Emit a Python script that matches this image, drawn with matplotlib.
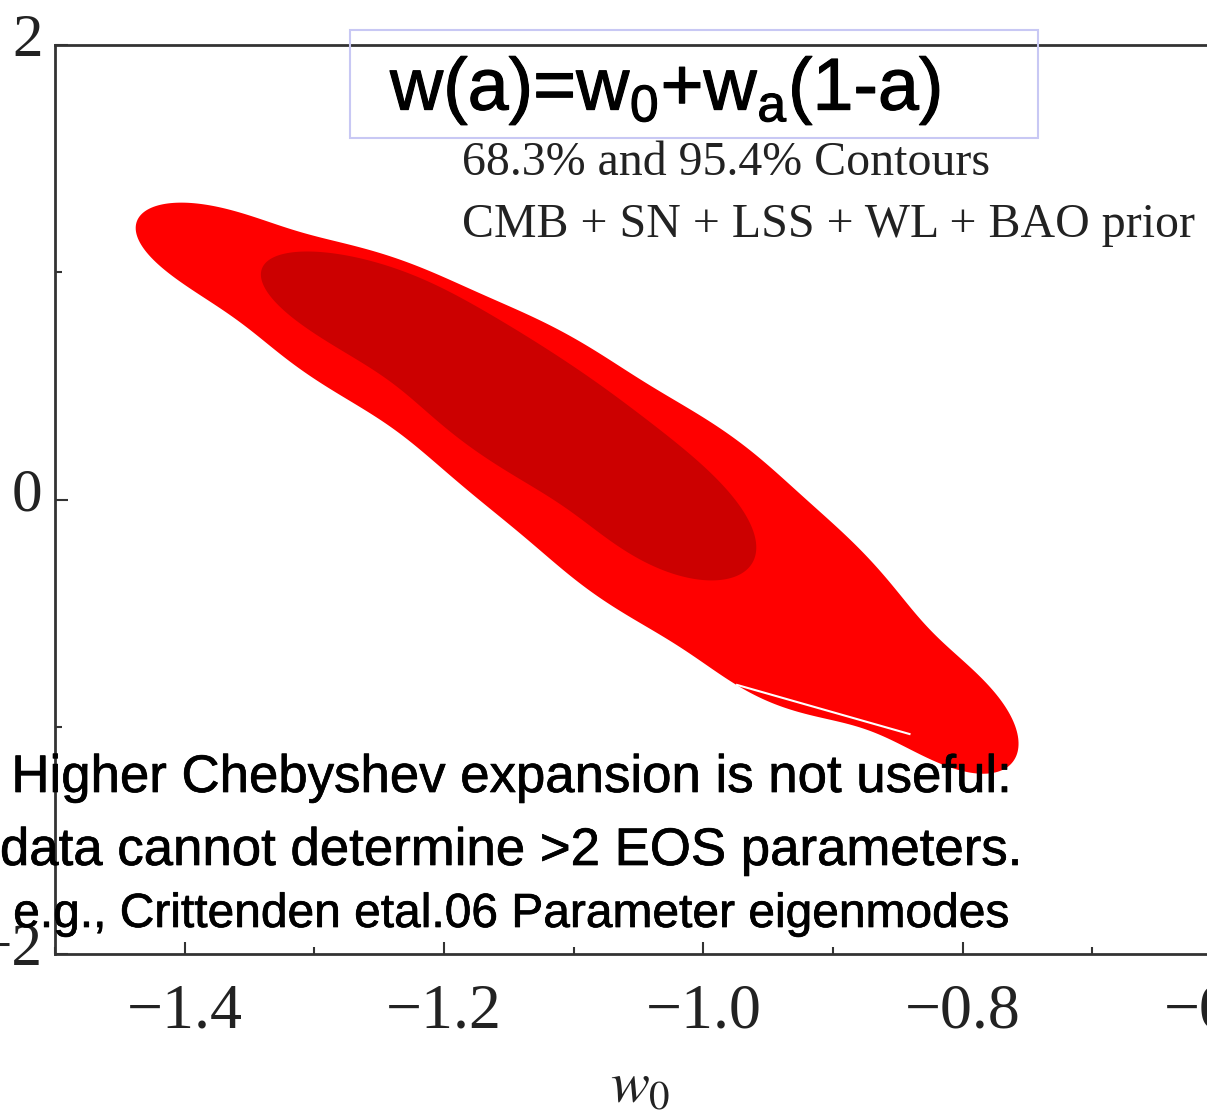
import numpy as np
import matplotlib
matplotlib.use("Agg")
import matplotlib.pyplot as plt
import matplotlib.patches as mpatches
import matplotlib.patheffects as pe
import matplotlib.transforms as mtransforms

plt.rcParams["mathtext.fontset"] = "custom"
plt.rcParams["mathtext.rm"] = "Liberation Sans"
plt.rcParams["mathtext.it"] = "Liberation Sans:italic"

# ── 95.4% contour outline (w0, wa), clockwise from the left tip ──────────────
OUTER_W0 = [-1.444, -1.438, -1.414, -1.388, -1.350, -1.311, -1.259, -1.208,
            -1.157, -1.118, -1.080, -1.041, -1.003, -0.964, -0.925, -0.887,
            -0.848, -0.823, -0.810, -0.784, -0.758, -0.756, -0.753, -0.758,
            -0.771, -0.797, -0.823, -0.848, -0.887, -0.939, -0.977,
            -1.003, -1.041, -1.080, -1.118, -1.157, -1.195, -1.234, -1.259,
            -1.286, -1.311, -1.337, -1.363, -1.388, -1.414, -1.440]
OUTER_WA = [1.217, 1.283, 1.305, 1.296, 1.243, 1.186, 1.098, 0.997,
            0.878, 0.759, 0.641, 0.513, 0.363, 0.218, 0.037, -0.189,
            -0.409, -0.572, -0.673, -0.805, -0.981, -1.028, -1.102, -1.177,
            -1.221, -1.204, -1.146, -1.058, -1.001, -0.913, -0.807,
            -0.706, -0.574, -0.429, -0.266, -0.077, 0.108, 0.293, 0.381,
            0.482, 0.579, 0.689, 0.790, 0.909, 1.019, 1.129]

# ── 68.3% contour outline ─────────────────────────────────────────────────────
INNER_W0 = [-1.351, -1.342, -1.311, -1.259, -1.208, -1.182, -1.157, -1.118,
            -1.080, -1.041, -1.003, -0.977, -0.959, -0.952, -0.964, -0.989,
            -1.028, -1.067, -1.105, -1.144, -1.182, -1.208, -1.234, -1.259,
            -1.286, -1.311, -1.337, -1.350]
INNER_WA = [1.019, 1.072, 1.094, 1.054, 0.950, 0.880, 0.800, 0.640,
            0.510, 0.350, 0.161, -0.015, -0.134, -0.253, -0.341, -0.363,
            -0.310, -0.209, -0.033, 0.086, 0.249, 0.372, 0.469, 0.583,
            0.689, 0.790, 0.909, 0.975]

# thin white stroke across the lower edge of the outer region
STROKE_W0 = [-0.974, -0.841]
STROKE_WA = [-0.816, -1.032]

X_MAJOR = [-1.4, -1.2, -1.0, -0.8, -0.6]
X_MINOR = [-1.5, -1.3, -1.1, -0.9, -0.7]
Y_MAJOR = [2, 0, -2]
Y_MINOR = [1, -1]

TITLE = r"w(a)=w$_\mathrm{0}$+w$_\mathrm{a}$(1-a)"
NOTE_LINES = ["68.3% and 95.4% Contours",
              "CMB + SN + LSS + WL + BAO prior"]
FOOT_LINES = ["Higher Chebyshev expansion is not useful:",
              "data cannot determine >2 EOS parameters.",
              "e.g., Crittenden etal.06 Parameter eigenmodes"]

ASPECT = 1296.7 / 227.25   # pixels per unit of w0 over pixels per unit of wa


def smooth_outline(xs, ys, keep=10, n=800):
    """Resample a closed outline by arc length and drop high harmonics."""
    pts = np.column_stack([xs, ys])
    pts = np.vstack([pts, pts[:1]])
    seg = np.hypot(np.diff(pts[:, 0]) * ASPECT, np.diff(pts[:, 1]))
    s = np.concatenate([[0], np.cumsum(seg)])
    t = np.linspace(0, s[-1], n, endpoint=False)
    z = np.interp(t, s, pts[:, 0]) * ASPECT + 1j * np.interp(t, s, pts[:, 1])
    f = np.fft.fft(z)
    k = np.fft.fftfreq(n, 1 / n)
    f[np.abs(k) > keep] = 0
    z = np.fft.ifft(f)
    return np.column_stack([z.real / ASPECT, z.imag])


W, H = 1207, 1118
fig = plt.figure(figsize=(W / 100, H / 100), dpi=100)
fig.patch.set_facecolor("white")

# axes run past the right edge of the canvas, so -0.6 is only partly shown
ax = fig.add_axes([55 / W, 1 - 954 / H, (1222 - 55) / W, (954 - 45) / H])
ax.set_xlim(-1.5, -0.6)
ax.set_ylim(-2, 2)

ax.add_patch(mpatches.Polygon(smooth_outline(OUTER_W0, OUTER_WA, keep=11),
                              closed=True, facecolor="#ff0000",
                              edgecolor="none", zorder=1))
ax.add_patch(mpatches.Polygon(smooth_outline(INNER_W0, INNER_WA, keep=6),
                              closed=True, facecolor="#cc0000",
                              edgecolor="none", zorder=2))
ax.plot(STROKE_W0, STROKE_WA, color="white", lw=1.5, zorder=3)

for side in ("left", "bottom", "top"):
    ax.spines[side].set_color("#333333")
    ax.spines[side].set_linewidth(2.0)
ax.spines["right"].set_visible(False)

serif = "Liberation Serif"
ax.set_xticks(X_MAJOR)
ax.set_xticklabels([f"\u2212{abs(v):.1f}" for v in X_MAJOR],
                   family=serif, fontsize=46, color="#222222")
ax.set_xticks(X_MINOR, minor=True)
ax.set_yticks(Y_MAJOR)
ax.set_yticklabels([str(v).replace("-", "\u2212") for v in Y_MAJOR],
                   family=serif, fontsize=44, color="#222222")
ax.set_yticks(Y_MINOR, minor=True)
ax.tick_params(which="both", direction="in", top=False, right=False,
               color="#333333", width=1.5)
ax.tick_params(which="major", length=9)
ax.tick_params(which="minor", length=5)
ax.tick_params(axis="x", pad=21)
ax.tick_params(axis="y", pad=9)

# y labels sit a little above their ticks
lift = mtransforms.ScaledTranslation(0, 10 / 100, fig.dpi_scale_trans)
for lab in ax.get_yticklabels():
    lab.set_transform(lab.get_transform() + lift)

fig.text(640 / W, 1 - 1103 / H, r"$w_0$", fontsize=42, ha="center",
         va="baseline", color="#222222", math_fontfamily="stix")

# formula box at the top
fig.patches.append(mpatches.Rectangle((350 / W, 1 - 138 / H), 688 / W, 108 / H,
                                      transform=fig.transFigure, fill=False,
                                      edgecolor="#c8c8f4", lw=1.5))
fig.text(390 / W, 1 - 110 / H, TITLE, fontsize=53, family="Liberation Sans",
         ha="left", va="baseline", color="black", math_fontfamily="custom",
         path_effects=[pe.withStroke(linewidth=0.8, foreground="black")])

for text, base in zip(NOTE_LINES, (175, 237)):
    fig.text(462 / W, 1 - base / H, text, family=serif, fontsize=34.5,
             ha="left", va="baseline", color="#222222")

heavy = [pe.withStroke(linewidth=0.5, foreground="black")]
for text, base, size in zip(FOOT_LINES, (792, 865, 927), (38, 38, 34.5)):
    fig.text(511 / W, 1 - base / H, text, family="Liberation Sans",
             fontsize=size, ha="center", va="baseline", color="black",
             zorder=5, path_effects=heavy)

fig.savefig("out.png", dpi=100, facecolor=fig.get_facecolor())
